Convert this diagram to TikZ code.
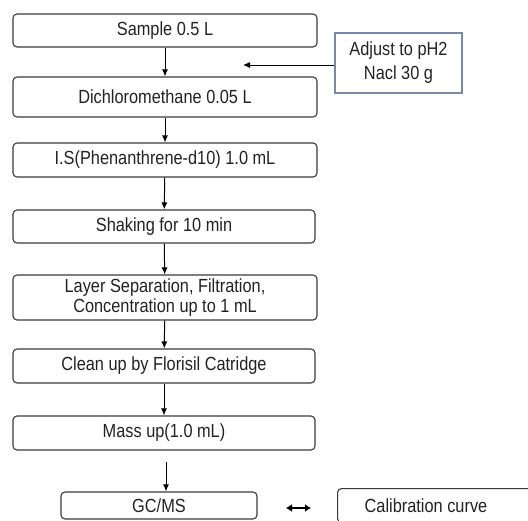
\documentclass[tikz,border=0pt]{standalone}
\usepackage{fontspec}
\setmainfont[FakeStretch=0.86]{Liberation Sans}
\usetikzlibrary{arrows.meta}
\definecolor{txt}{HTML}{222222}
\definecolor{edge}{HTML}{3A3A3A}
\definecolor{bluegray}{HTML}{7A8AA3}
\tikzset{
  stepbox/.style={draw=edge, line width=1.1pt, rounded corners=4pt, text=txt,
    font=\fontsize{19}{20}\selectfont, align=center, inner sep=0pt},
  sidebox/.style={draw=bluegray, line width=1.1pt, text=txt,
    font=\fontsize{19}{24}\selectfont, align=center, inner sep=0pt},
  arr/.style={draw=black, line width=1pt, -{Latex[length=7pt,width=6pt]}},
  dblarr/.style={draw=black, line width=2.4pt, {Latex[length=6pt,width=8pt]}-{Latex[length=6pt,width=8pt]}}
}
\begin{document}
\begin{tikzpicture}[x=1pt,y=-1pt]
\useasboundingbox (0,0) rectangle (528,520);
\clip (0,0) rectangle (528,520);
\node[stepbox, minimum width=304, minimum height=33] (b1) at (165,30.5) {Sample 0.5 L};
\node[stepbox, minimum width=304, minimum height=40] (b2) at (165,97) {Dichloromethane 0.05 L};
\node[stepbox, minimum width=304, minimum height=34] (b3) at (165,160) {I.S(Phenanthrene-d10) 1.0 mL};
\node[stepbox, minimum width=302, minimum height=33] (b4) at (164,226.5) {Shaking for 10 min};
\node[stepbox, minimum width=304, minimum height=45] (b5) at (165,297.5) {Layer Separation, Filtration,\\Concentration up to 1 mL};
\node[stepbox, minimum width=302, minimum height=34] (b6) at (164,366) {Clean up by Florisil Catridge};
\node[stepbox, minimum width=302, minimum height=34] (b7) at (164,433) {Mass up(1.0 mL)};
\node[stepbox, minimum width=196, minimum height=27] (gc) at (159,505.5) {GC/MS};
\node[stepbox, minimum width=200, minimum height=34, anchor=north west] (cal) at (337,488) {};
\node[text=txt, font=\fontsize{19}{20}\selectfont, inner sep=0pt] (caltext) at (426,506) {Calibration curve};
\node[sidebox, minimum width=127, minimum height=60] (adj) at (398.5,63) {Adjust to pH2\\Nacl 30 g};
\coordinate (adjend) at (243,65);
\coordinate (gcstart) at (166,462);
\coordinate (dl) at (286,508);
\coordinate (dr) at (311,508);
\draw[arr] (b1) -- (b2);
\draw[arr] (b2) -- (b3);
\draw[arr] (b3) -- (b4);
\draw[arr] (b4) -- (b5);
\draw[arr] (b5) -- (b6);
\draw[arr] (b6) -- (b7);
\draw[arr] (gcstart) -- (gcstart |- gc.north);
\draw[arr] (adj.west |- adjend) -- (adjend);
\draw[dblarr] (dl) -- (dr);
\end{tikzpicture}
\end{document}
